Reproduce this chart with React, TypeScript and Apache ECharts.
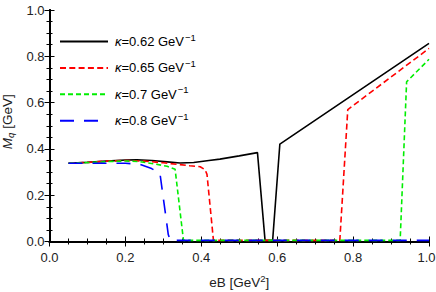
import React, { useEffect, useRef } from "react";
import * as echarts from "echarts";

// ---- data ----
const seriesNames = ["k062", "k065", "k070", "k080"];
const kappaLabels = ["0.62", "0.65", "0.7", "0.8"];

const k062X = [0.05, 0.1, 0.15, 0.2, 0.23, 0.27, 0.31, 0.344, 0.38, 0.42, 0.449, 0.5, 0.548, 0.568, 0.588, 0.607, 1.0];
const k062Y = [0.338, 0.342, 0.347, 0.352, 0.353, 0.35, 0.344, 0.339, 0.341, 0.35, 0.356, 0.37, 0.384, 0.005, 0.005, 0.421, 0.856];

const k065X = [0.05, 0.1, 0.15, 0.2, 0.25, 0.3, 0.344, 0.37, 0.397, 0.41, 0.415, 0.432, 0.765, 0.786, 1.0];
const k065Y = [0.338, 0.342, 0.347, 0.35, 0.347, 0.34, 0.332, 0.327, 0.323, 0.31, 0.29, 0.005, 0.005, 0.57, 0.834];

const k070X = [0.05, 0.1, 0.15, 0.2, 0.238, 0.278, 0.31, 0.331, 0.353, 0.924, 0.941, 1.0];
const k070Y = [0.338, 0.341, 0.345, 0.348, 0.345, 0.335, 0.325, 0.312, 0.005, 0.005, 0.69, 0.787];

const k080X = [0.05, 0.1, 0.15, 0.2, 0.238, 0.269, 0.291, 0.313, 0.318, 1.0];
const k080Y = [0.338, 0.338, 0.338, 0.338, 0.333, 0.315, 0.295, 0.03, 0.005, 0.005];

const xTicks = { min: 0, max: 1, interval: 0.2 };
const yTicks = { min: 0, max: 1, interval: 0.2 };

const allX = [k062X, k065X, k070X, k080X];
const allY = [k062Y, k065Y, k070Y, k080Y];

const colors = ["#000000", "#ff0000", "#00ee00", "#0000ff"];
const dashes: (string | number[])[] = ["solid", [6, 3.3], [5, 3], [14, 10]];

const FONT = "Liberation Sans, Arial, sans-serif";

export default function App() {
  const ref = useRef<HTMLDivElement>(null);
  useEffect(() => {
    if (!ref.current) return;
    const chart = echarts.init(ref.current, undefined, { renderer: "svg" });

    const axisLine = { show: true, lineStyle: { color: "#000", width: 2 } };
    const tick = { show: true, inside: true, length: 5, lineStyle: { color: "#000", width: 1 } };
    const minor = { show: true, splitNumber: 4, length: 3, lineStyle: { color: "#000", width: 1 } };
    const label = { fontFamily: FONT, fontSize: 13, color: "#222", formatter: (v: number) => v.toFixed(1) };

    const series = seriesNames.map((n, i) => ({
      name: n,
      type: "line",
      xAxisIndex: 0,
      yAxisIndex: 0,
      showSymbol: false,
      symbol: "none",
      smooth: false,
      lineStyle: { color: colors[i], width: 1.6, type: dashes[i] },
      itemStyle: { color: colors[i] },
      data: allX[i].map((x, j) => [x, allY[i][j]]),
    }));

    const rich = {
      k: { fontFamily: FONT, fontSize: 13, fontStyle: "italic", color: "#000" },
      t: { fontFamily: FONT, fontSize: 13, color: "#000" },
      s: { fontFamily: FONT, fontSize: 9.5, color: "#000", padding: [0, 0, 9, 1] },
    };

    const legends = seriesNames.map((n, i) => ({
      data: [n],
      left: 59,
      top: 32 + i * 26.4,
      padding: 0,
      orient: "vertical",
      itemWidth: 48,
      itemHeight: 14,
      selectedMode: false,
      itemStyle: { opacity: 0, borderWidth: 0 },
      textStyle: { rich, padding: [0, 0, 0, 2] },
      formatter: () => `{k|κ}{t|=${kappaLabels[i]} GeV}{s|−1}`,
    }));

    chart.setOption({
      animation: false,
      backgroundColor: "#fff",
      grid: { left: 49.5, right: 7, top: 10, bottom: 50.5, containLabel: false, outerBoundsMode: "none" },
      legend: legends,
      xAxis: [
        {
          type: "value",
          position: "bottom",
          ...xTicks,
          axisLine,
          axisTick: tick,
          minorTick: minor,
          splitLine: { show: false },
          axisLabel: {
            ...label,
            margin: 9,
            formatter: (v: number) => (v >= xTicks.max ? `{r|${v.toFixed(1)}}` : v.toFixed(1)),
            rich: { r: { fontFamily: FONT, fontSize: 13, color: "#222", padding: [0, 5, 0, 0] } },
          },
          name: "{n|eB [GeV}{p|2}{n|]}",
          nameLocation: "middle",
          nameGap: 32,
          nameTextStyle: {
            rich: {
              n: { fontFamily: FONT, fontSize: 13.5, color: "#222" },
              p: { fontFamily: FONT, fontSize: 9.5, color: "#222", padding: [0, 0, 8, 0] },
            },
          },
        },
        {
          type: "value",
          position: "top",
          ...xTicks,
          axisLine,
          axisTick: tick,
          minorTick: minor,
          splitLine: { show: false },
          axisLabel: { show: false },
        },
      ],
      yAxis: [
        {
          type: "value",
          position: "left",
          ...yTicks,
          axisLine,
          axisTick: tick,
          minorTick: minor,
          splitLine: { show: false },
          axisLabel: { ...label, margin: 5 },
          name: "{i|M}{q|q}{n| [GeV]}",
          nameLocation: "middle",
          nameRotate: 90,
          nameGap: 34,
          nameTextStyle: {
            rich: {
              i: { fontFamily: FONT, fontSize: 13.5, fontStyle: "italic", color: "#222", padding: [0, 0, 0, 8] },
              q: { fontFamily: FONT, fontSize: 9.5, fontStyle: "italic", color: "#222", padding: [6, 0, 0, 0] },
              n: { fontFamily: FONT, fontSize: 13.5, color: "#222" },
            },
          },
        },
        {
          type: "value",
          position: "right",
          ...yTicks,
          axisLine,
          axisTick: tick,
          minorTick: minor,
          splitLine: { show: false },
          axisLabel: { show: false },
        },
      ],
      series,
    });
    return () => chart.dispose();
  }, []);
  return <div ref={ref} style={{ width: 436, height: 292, position: "absolute", left: 0, top: 0 }} />;
}
